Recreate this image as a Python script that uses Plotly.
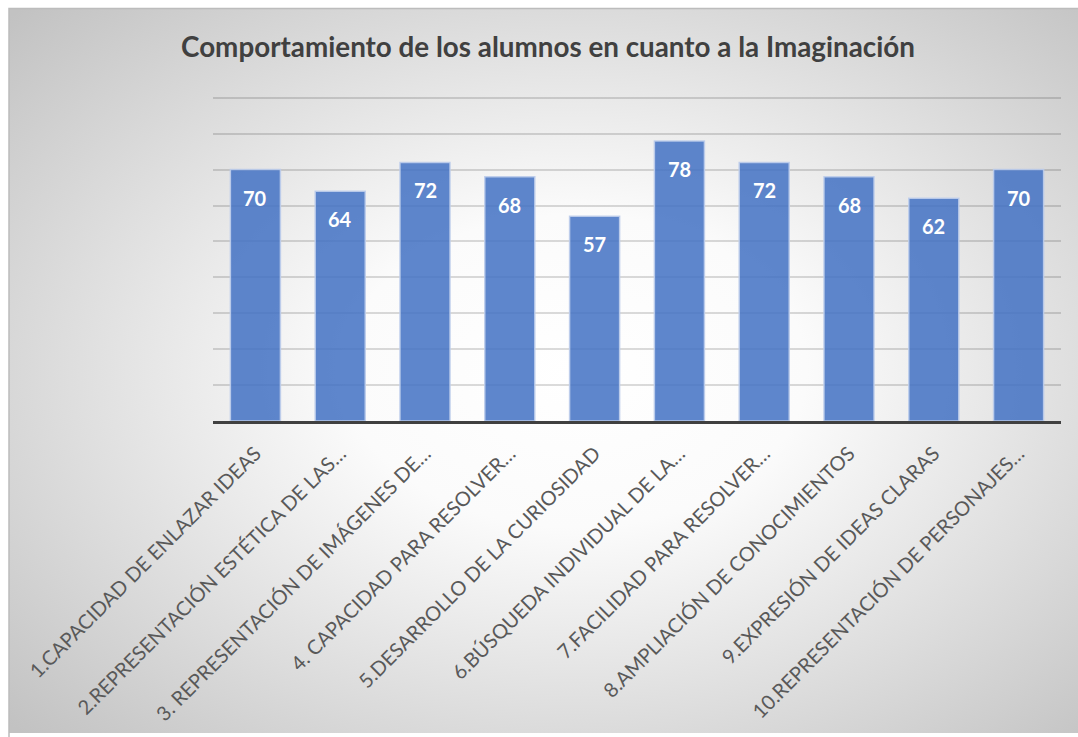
import base64
import plotly.graph_objects as go

# Categories and scores
categories = [
    "1.CAPACIDAD DE ENLAZAR IDEAS",
    "2.REPRESENTACIÓN ESTÉTICA DE LAS…",
    "3. REPRESENTACIÓN DE IMÁGENES DE…",
    "4. CAPACIDAD PARA RESOLVER…",
    "5.DESARROLLO DE LA CURIOSIDAD",
    "6.BÚSQUEDA INDIVIDUAL DE LA…",
    "7.FACILIDAD PARA RESOLVER…",
    "8.AMPLIACIÓN DE CONOCIMIENTOS",
    "9.EXPRESIÓN DE IDEAS CLARAS",
    "10.REPRESENTACIÓN DE PERSONAJES…",
]
values = [70, 64, 72, 68, 57, 78, 72, 68, 62, 70]
title_text = "Comportamiento de los alumnos en cuanto a la Imaginación"

W, H = 1078, 737
L, R, T, B = 213, 17, 96, 314
pw, ph = W - L - R, H - T - B
YMAX = 90.5

# Radial grey-to-white chart background as an SVG image
bx0, by0 = 9, 8
bw, bh = W - bx0, H - by0
svg = f"""<svg xmlns='http://www.w3.org/2000/svg' width='{bw}' height='{bh}'>
<defs><radialGradient id='g' cx='53%' cy='50%' r='72%'>
<stop offset='0' stop-color='#ffffff'/>
<stop offset='0.3' stop-color='#fbfbfb'/>
<stop offset='1' stop-color='#c2c2c2'/>
</radialGradient></defs>
<rect width='100%' height='100%' fill='url(#g)'/>
</svg>"""
bg_src = "data:image/svg+xml;base64," + base64.b64encode(svg.encode()).decode()

px = lambda p: (p - L) / pw
py = lambda p: (H - B - p) / ph

fig = go.Figure()
fig.add_trace(go.Bar(
    x=categories,
    y=values,
    marker=dict(color="rgba(68,114,196,0.86)",
                line=dict(color="rgba(190,205,235,0.9)", width=1.5)),
    hoverinfo="x+y",
))

for c, v in zip(categories, values):
    fig.add_annotation(x=c, y=v, text=f"<b>{v}</b>", showarrow=False,
                       yshift=-28, font=dict(family="Lato", size=20, color="white"))

fig.update_layout(
    width=W, height=H,
    margin=dict(l=L, r=R, t=T, b=B),
    paper_bgcolor="white",
    plot_bgcolor="rgba(0,0,0,0)",
    bargap=0.41,
    showlegend=False,
    title=dict(text=f"<b>{title_text}</b>", xref="paper",
               xanchor="center", y=1 - 47 / H, yanchor="middle",
               font=dict(family="Lato", size=27.8, color="#404040")),
    images=[dict(source=bg_src, xref="paper", yref="paper",
                 x=px(bx0), y=py(by0), sizex=bw / pw, sizey=bh / ph,
                 xanchor="left", yanchor="top", sizing="stretch", layer="below")],
    shapes=[dict(type="rect", xref="paper", yref="paper",
                 x0=px(bx0), x1=px(W + 5), y0=py(by0), y1=py(H + 5),
                 line=dict(color="#bcbcbc", width=1.5), fillcolor="rgba(0,0,0,0)",
                 layer="below")],
)
fig.update_layout(title_x=(548 - L) / pw)

fig.update_xaxes(
    tickangle=-45,
    tickfont=dict(family="Lato", size=20, color="#595959"),
    showline=True, linecolor="#404040", linewidth=3,
    ticks="", showgrid=False,
    ticklabelstandoff=10,
)
fig.update_yaxes(
    range=[0, YMAX], dtick=10, showticklabels=False,
    showgrid=True, gridcolor="rgba(0,0,0,0.14)", gridwidth=1.5,
    zeroline=False, fixedrange=True,
)

fig.write_html("out.html")
